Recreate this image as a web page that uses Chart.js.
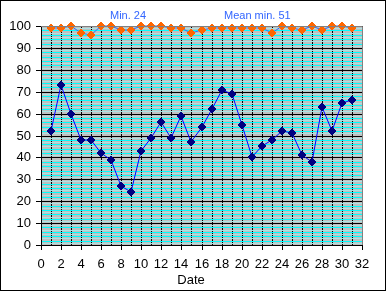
<!DOCTYPE html>
<html>
<head>
<meta charset="utf-8">
<script src="https://cdn.jsdelivr.net/npm/chart.js@4/dist/chart.umd.min.js"></script>
<style>
  html, body { margin: 0; padding: 0; background: #fff; }
  #wrap { width: 386px; height: 291px; }
</style>
</head>
<body>
<div id="wrap"><canvas id="c" width="386" height="291"></canvas></div>
<script>
const dates = [1, 2, 3, 4, 5, 6, 7, 8, 9, 10, 11, 12, 13, 14, 15, 16, 17, 18, 19, 20, 21, 22, 23, 24, 25, 26, 27, 28, 29, 30, 31];
const minValues = [52, 73, 60, 48, 48, 42, 39, 27, 24, 43, 49, 56, 49, 59, 47, 54, 62, 71, 69, 55, 40, 45, 48, 52, 51, 41, 38, 63, 52, 65, 66];
const topValues = [99, 99, 100, 97, 96, 100, 100, 98, 98, 100, 100, 100, 99, 99, 97, 98, 99, 99, 99, 99, 99, 99, 97, 100, 99, 98, 100, 98, 100, 100, 99];
const yLabels = [0, 10, 20, 30, 40, 50, 60, 70, 80, 90, 100];
const xLabels = [0, 2, 4, 6, 8, 10, 12, 14, 16, 18, 20, 22, 24, 26, 28, 30, 32];
const minText = 'Min. 24';
const meanText = 'Mean min. 51';
const axisTitle = 'Date';

const FONT = 'Liberation Sans, Arial, sans-serif';

const frame = {
    id: 'frame',
    beforeDraw(chart) {
        const { ctx, chartArea: a } = chart;
        ctx.save();
        ctx.fillStyle = '#fff';
        ctx.fillRect(0, 0, chart.width, chart.height);
        ctx.fillStyle = '#c0c0c0';
        ctx.fillRect(a.left, a.top, a.right - a.left, a.bottom - a.top);
        ctx.restore();
    },
    afterDatasetsDraw(chart) {
        const { ctx, chartArea: a } = chart;
        ctx.save();
        ctx.strokeStyle = '#808080';
        ctx.lineWidth = 1;
        ctx.beginPath();
        ctx.moveTo(Math.round(a.left), Math.round(a.top) + 0.5);
        ctx.lineTo(Math.round(a.right) + 0.5, Math.round(a.top) + 0.5);
        ctx.lineTo(Math.round(a.right) + 0.5, Math.round(a.bottom));
        ctx.stroke();
        ctx.strokeStyle = '#000';
        ctx.strokeRect(0.5, 0.5, chart.width - 1, chart.height - 1);
        ctx.fillStyle = '#3366ff';
        ctx.font = '11px ' + FONT;
        ctx.textBaseline = 'alphabetic';
        ctx.textAlign = 'left';
        ctx.fillText(minText, 110, 19);
        ctx.fillText(meanText, 224, 19);
        ctx.fillStyle = '#000';
        ctx.font = '13px ' + FONT;
        ctx.textAlign = 'center';
        ctx.fillText(axisTitle, 191, 284);
        ctx.restore();
    }
};

new Chart(document.getElementById('c'), {
    type: 'line',
    data: {
        labels: dates,
        datasets: [{
            label: 'Top',
            data: topValues,
            borderColor: '#3366ff',
            borderWidth: 1,
            pointStyle: 'rectRot',
            pointRadius: 4,
            pointBackgroundColor: '#ff6600',
            pointBorderColor: '#ff6600',
            pointBorderWidth: 1,
            clip: 6,
            tension: 0
        }, {
            label: 'Min',
            data: minValues,
            borderColor: '#0000ff',
            borderWidth: 1,
            pointStyle: 'rectRot',
            pointRadius: 4,
            pointBackgroundColor: '#000080',
            pointBorderColor: '#000080',
            pointBorderWidth: 1,
            clip: 6,
            tension: 0
        }]
    },
    options: {
        responsive: false,
        animation: false,
        events: [],
        layout: { padding: { left: 0, top: 26, right: 24, bottom: 0 } },
        plugins: {
            legend: { display: false },
            tooltip: { enabled: false }
        },
        scales: {
            x: {
                type: 'linear',
                min: 0,
                max: 32,
                alignToPixels: true,
                afterFit: function (scale) { scale.height = 46; },
                border: { color: '#000', width: 1 },
                grid: {
                    color: '#000',
                    lineWidth: 1,
                    tickLength: 5,
                    tickColor: function (c) {
                        return xLabels.includes(c.tick.value) ? '#000' : 'rgba(0,0,0,0)';
                    }
                },
                ticks: {
                    stepSize: 1,
                    maxTicksLimit: 200,
                    autoSkip: false,
                    maxRotation: 0,
                    padding: 7,
                    color: '#000',
                    font: { family: FONT, size: 13 },
                    callback: function (value) {
                        return xLabels.includes(value) ? String(value) : '';
                    }
                }
            },
            y: {
                min: 0,
                max: 100,
                alignToPixels: true,
                afterFit: function (scale) { scale.width = 41; },
                border: { color: '#000', width: 1 },
                grid: {
                    lineWidth: 1,
                    tickLength: 5,
                    color: function (c) {
                        const v = c.tick.value;
                        if (yLabels.includes(v)) return '#000';
                        return v % 2 === 0 ? '#00ffff' : '#a8e4e4';
                    },
                    tickColor: function (c) {
                        return yLabels.includes(c.tick.value) ? '#000' : 'rgba(0,0,0,0)';
                    }
                },
                ticks: {
                    stepSize: 1,
                    maxTicksLimit: 200,
                    autoSkip: false,
                    padding: 5,
                    color: '#000',
                    font: { family: FONT, size: 13 },
                    callback: function (value) {
                        return yLabels.includes(value) ? String(value) : '';
                    }
                }
            }
        }
    },
    plugins: [frame]
});
</script>
</body>
</html>
